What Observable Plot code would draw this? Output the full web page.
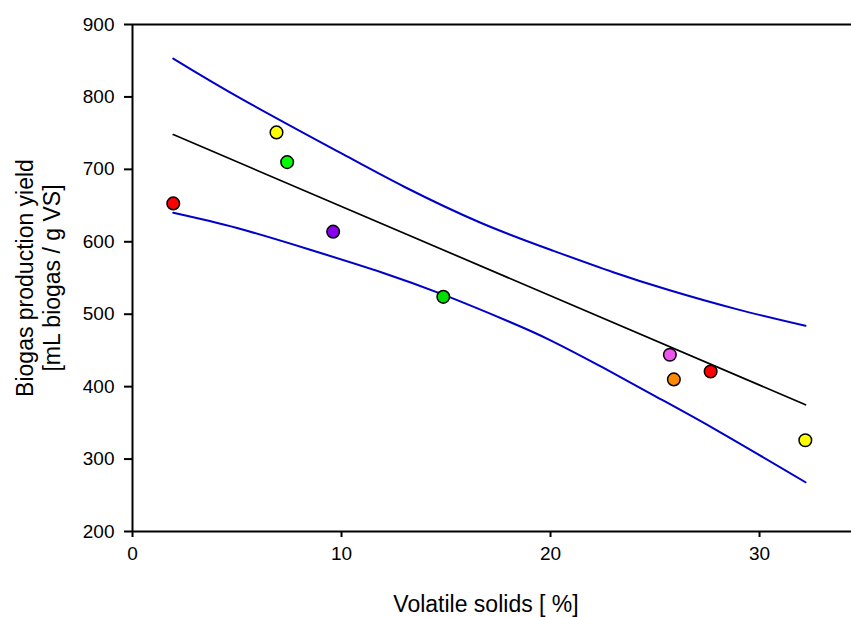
<!DOCTYPE html>
<html>
<head>
<meta charset="utf-8">
<script src="https://cdn.jsdelivr.net/npm/d3@7"></script>
<script src="https://cdn.jsdelivr.net/npm/@observablehq/plot@0.6"></script>
<style>
  html, body { margin: 0; padding: 0; background: #ffffff; overflow: hidden; }
</style>
</head>
<body>
<div id="chart"></div>
<script>
// Observed points
const volatileSolids = [1.95, 6.89, 7.40, 9.60, 14.87, 25.71, 25.90, 27.66, 32.19];
const biogasYield = [653, 751, 710, 614, 524, 444, 410, 421, 326];
const pointColors = ["#ff0000", "#ffff00", "#00ff00", "#8800ee", "#00dd00", "#ee55ee", "#ff8800", "#ff0000", "#ffff00"];

// Regression line
const fitX = [1.95, 32.2];
const fitY = [748, 375];

// Upper confidence band
const upperX = [1.95, 5.3, 10, 13, 16.6, 20, 23, 25.7, 28.9, 32.2];
const upperY = [853, 796, 722, 676, 627, 589, 558, 533, 507, 484];

// Lower confidence band
const lowerX = [1.95, 5, 8.5, 12, 14.87, 18, 20, 22.4, 25, 28, 32.2];
const lowerY = [640, 619, 589, 557, 527, 490, 464, 428, 387, 339, 268];

// Ticks
const xTicks = [0, 10, 20, 30];
const yTicks = [200, 300, 400, 500, 600, 700, 800, 900];

const xTitle = "Volatile solids [ %]";
const yTitle = "Biogas production yield\n[mL biogas / g VS]";

const pts = volatileSolids.map((x, i) => ({x, y: biogasYield[i], c: pointColors[i]}));
const fit = fitX.map((x, i) => ({x, y: fitY[i]}));
const upper = upperX.map((x, i) => ({x, y: upperY[i]}));
const lower = lowerX.map((x, i) => ({x, y: lowerY[i]}));

const chart = Plot.plot({
  width: 851,
  height: 617,
  marginLeft: 132,
  marginRight: 0,
  marginTop: 24,
  marginBottom: 86,
  x: {domain: [0, 34.4]},
  y: {domain: [200, 900]},
  color: {type: "identity"},
  style: {fontFamily: "'Liberation Sans', Arial, sans-serif", fontSize: "19px", color: "#000", background: "#fff"},
  marks: [
    Plot.axisX({ticks: xTicks, tickSize: 6, tickPadding: 9, label: null, strokeWidth: 2}),
    Plot.axisY({ticks: yTicks, tickSize: 8, tickPadding: 10, label: null, strokeWidth: 2}),
    Plot.ruleX([0], {stroke: "#000", strokeWidth: 2}),
    Plot.ruleY([200, 900], {stroke: "#000", strokeWidth: 2}),
    Plot.line(upper, {x: "x", y: "y", stroke: "#0000cc", strokeWidth: 2, curve: "natural"}),
    Plot.line(lower, {x: "x", y: "y", stroke: "#0000cc", strokeWidth: 2, curve: "natural"}),
    Plot.line(fit, {x: "x", y: "y", stroke: "#000", strokeWidth: 1.7}),
    Plot.dot(pts, {x: "x", y: "y", fill: "c", stroke: "#000", strokeWidth: 1.5, r: 6.3}),
    Plot.text([xTitle], {frameAnchor: "bottom", lineAnchor: "middle", textAnchor: "middle", dx: -6, dy: 73, fontSize: 23, fill: "#000"}),
    Plot.text([yTitle], {frameAnchor: "left", lineAnchor: "middle", textAnchor: "middle", dx: -94.5, dy: 0, rotate: -90, fontSize: 23, lineHeight: 1.17, fill: "#000"})
  ]
});
d3.select(chart).selectAll('g[aria-label$="tick label"] text').style("font-size", "19px");
document.getElementById("chart").appendChild(chart);
</script>
</body>
</html>
